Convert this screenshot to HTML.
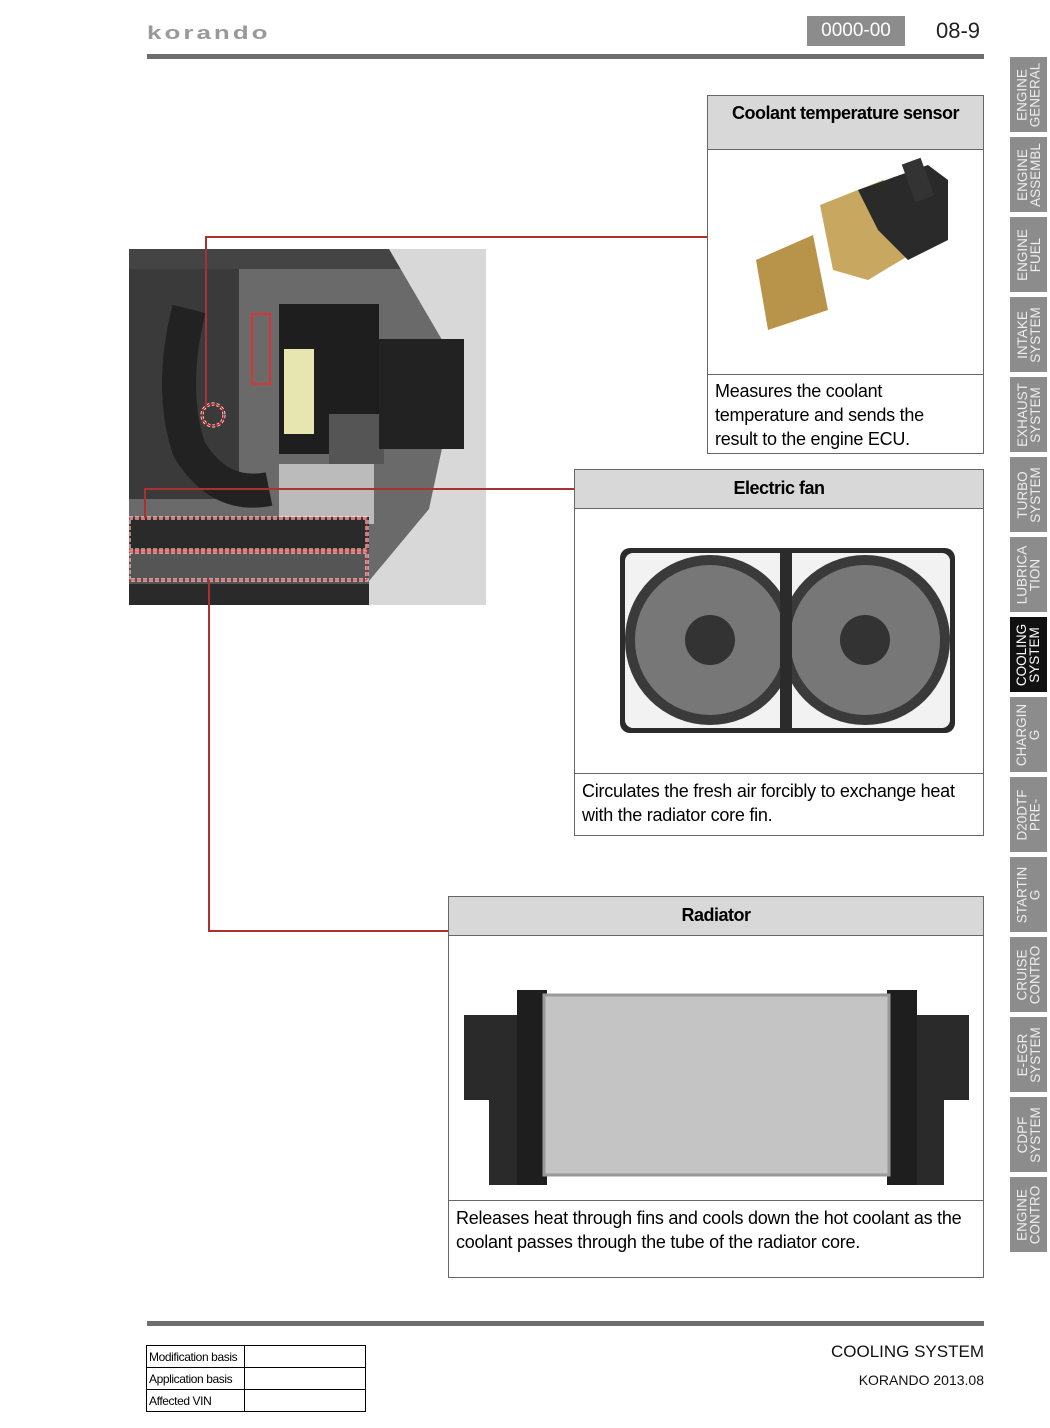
<!DOCTYPE html>
<html><head><meta charset="utf-8"><style>
body{margin:0;width:1050px;height:1428px;background:#fff;position:relative;font-family:"Liberation Sans",Arial,sans-serif;overflow:hidden}
.a{position:absolute}
.box{position:absolute;border:1px solid #666;background:#fff;box-sizing:border-box}
.hd{background:#d8d8d8;border-bottom:1px solid #666;font-weight:bold;text-align:center;font-size:18px;letter-spacing:-0.5px;box-sizing:border-box}
.tx{position:absolute;left:7px;font-size:18px;line-height:24px;letter-spacing:-0.25px;color:#000;white-space:nowrap}
.tab{position:absolute;left:1010px;width:37px;height:75px;background:#8c8c8c;color:#eee;font-size:13.5px;line-height:13px;display:flex;align-items:center;justify-content:center;text-align:center}
.tab span{transform:rotate(-90deg);white-space:nowrap;display:block}
.rl{position:absolute;background:#a83232}
td{white-space:nowrap;overflow:hidden}
</style></head><body>
<div class="a" style="left:147px;top:22px;font-size:26px;color:#999;letter-spacing:3px;font-weight:bold;transform:scaleY(0.7);transform-origin:top left">korando</div>
<div class="a" style="left:807px;top:16px;width:98px;height:30px;background:#8c8c8c;color:#fff;font-size:19px;text-align:center;line-height:30px">0000-00</div>
<div class="a" style="left:936px;top:18px;font-size:22px;color:#222">08-9</div>
<div class="a" style="left:147px;top:54px;width:837px;height:5px;background:#6e6e6e"></div>

<div class="tab" style="top:57px"><span>ENGINE<br>GENERAL</span></div>
<div class="tab" style="top:137px"><span>ENGINE<br>ASSEMBL</span></div>
<div class="tab" style="top:217px"><span>ENGINE<br>FUEL</span></div>
<div class="tab" style="top:297px"><span>INTAKE<br>SYSTEM</span></div>
<div class="tab" style="top:377px"><span>EXHAUST<br>SYSTEM</span></div>
<div class="tab" style="top:457px"><span>TURBO<br>SYSTEM</span></div>
<div class="tab" style="top:537px"><span>LUBRICA<br>TION</span></div>
<div class="tab" style="top:617px;background:#111;color:#fff"><span>COOLING<br>SYSTEM</span></div>
<div class="tab" style="top:697px"><span>CHARGIN<br>G</span></div>
<div class="tab" style="top:777px"><span>D20DTF<br>PRE-</span></div>
<div class="tab" style="top:857px"><span>STARTIN<br>G</span></div>
<div class="tab" style="top:937px"><span>CRUISE<br>CONTRO</span></div>
<div class="tab" style="top:1017px"><span>E-EGR<br>SYSTEM</span></div>
<div class="tab" style="top:1097px"><span>CDPF<br>SYSTEM</span></div>
<div class="tab" style="top:1177px"><span>ENGINE<br>CONTRO</span></div>

<svg class="a" style="left:129px;top:249px" width="357" height="356">
<rect width="357" height="356" fill="#6a6a6a"/>
<rect x="0" y="0" width="357" height="20" fill="#444"/>
<polygon points="260,0 357,0 357,356 220,356 300,260 330,120" fill="#d8d8d8"/>
<rect x="0" y="20" width="110" height="230" fill="#3a3a3a"/>
<path d="M60,60 Q40,140 60,200 Q90,250 140,240" stroke="#222" stroke-width="34" fill="none"/>
<rect x="150" y="55" width="100" height="150" fill="#1e1e1e"/>
<rect x="155" y="100" width="30" height="85" fill="#e8e6b0"/>
<rect x="200" y="165" width="55" height="50" fill="#555"/>
<rect x="250" y="90" width="85" height="110" fill="#222"/>
<rect x="150" y="215" width="95" height="60" fill="#bbb"/>
<rect x="123" y="65" width="18" height="70" fill="none" stroke="#d33" stroke-width="2"/>
<rect x="0" y="268" width="240" height="88" fill="#2a2a2a"/>
<rect x="0" y="300" width="240" height="35" fill="#555"/>
<circle cx="84" cy="166" r="11" fill="none" stroke="#fff" stroke-width="3" stroke-dasharray="3 2"/>
<circle cx="84" cy="166" r="11" fill="none" stroke="#b22" stroke-width="1.5"/>
<rect x="0" y="269" width="238" height="32" fill="none" stroke="#fff" stroke-width="3" stroke-dasharray="4 2"/>
<rect x="0" y="269" width="238" height="32" fill="none" stroke="#b22" stroke-width="1.2"/>
<rect x="0" y="303" width="238" height="28" fill="none" stroke="#fff" stroke-width="3" stroke-dasharray="4 2"/>
<rect x="0" y="303" width="238" height="28" fill="none" stroke="#b22" stroke-width="1.2"/>
</svg>

<div class="rl" style="left:205px;top:236px;width:502px;height:2px"></div>
<div class="rl" style="left:205px;top:236px;width:2px;height:170px"></div>
<div class="rl" style="left:144px;top:488px;width:430px;height:2px"></div>
<div class="rl" style="left:144px;top:488px;width:2px;height:30px"></div>
<div class="rl" style="left:208px;top:580px;width:2px;height:352px"></div>
<div class="rl" style="left:208px;top:930px;width:240px;height:2px"></div>

<div class="box" style="left:707px;top:95px;width:277px;height:359px">
<div class="hd" style="height:54px;padding-top:7px">Coolant temperature sensor</div>
<svg class="a" style="left:0;top:54px" width="275" height="225">
<polygon points="48,110 105,85 120,160 60,180" fill="#b8944a"/>
<polygon points="112,55 175,30 200,50 210,100 160,130 125,120" fill="#c8a860"/>
<polygon points="150,40 220,15 240,30 240,90 200,110 170,80" fill="#2a2a2a"/>
<rect x="200" y="10" width="20" height="40" fill="#333" transform="rotate(-20 210 30)"/>
</svg>
<div style="position:absolute;left:0;top:278px;width:275px;border-top:1px solid #666"></div>
<div class="tx" style="top:283px">Measures the coolant<br>temperature and sends the<br>result to the engine ECU.</div>
</div>

<div class="box" style="left:574px;top:469px;width:410px;height:367px">
<div class="hd" style="height:39px;padding-top:8px">Electric fan</div>
<svg class="a" style="left:0;top:38px" width="408" height="266">
<rect x="45" y="40" width="335" height="185" rx="10" fill="#2b2b2b"/>
<rect x="50" y="45" width="325" height="175" rx="8" fill="#f2f2f2"/>
<circle cx="135" cy="132" r="85" fill="#3a3a3a"/>
<circle cx="135" cy="132" r="75" fill="#777"/>
<circle cx="135" cy="132" r="25" fill="#333"/>
<circle cx="290" cy="132" r="85" fill="#3a3a3a"/>
<circle cx="290" cy="132" r="75" fill="#777"/>
<circle cx="290" cy="132" r="25" fill="#333"/>
<rect x="205" y="40" width="12" height="185" fill="#2b2b2b"/>
</svg>
<div style="position:absolute;left:0;top:303px;width:408px;border-top:1px solid #666"></div>
<div class="tx" style="top:309px">Circulates the fresh air forcibly to exchange heat<br>with the radiator core fin.</div>
</div>

<div class="box" style="left:448px;top:896px;width:536px;height:382px">
<div class="hd" style="height:39px;padding-top:8px">Radiator</div>
<svg class="a" style="left:0;top:38px" width="534" height="266">
<polygon points="15,80 70,80 70,250 40,250 40,165 15,165" fill="#2a2a2a"/>
<polygon points="465,80 520,80 520,165 495,165 495,250 465,250" fill="#2a2a2a"/>
<rect x="68" y="55" width="30" height="195" fill="#1e1e1e"/>
<rect x="438" y="55" width="30" height="195" fill="#1e1e1e"/>
<rect x="95" y="60" width="345" height="180" fill="#c4c4c4"/>
<rect x="95" y="60" width="345" height="180" fill="none" stroke="#999" stroke-width="3"/>
</svg>
<div style="position:absolute;left:0;top:303px;width:534px;border-top:1px solid #666"></div>
<div class="tx" style="top:309px">Releases heat through fins and cools down the hot coolant as the<br>coolant passes through the tube of the radiator core.</div>
</div>

<div class="a" style="left:147px;top:1321px;width:837px;height:5px;background:#6e6e6e"></div>
<table class="a" style="left:146px;top:1345px;border-collapse:collapse;font-size:12px;letter-spacing:-0.4px;table-layout:fixed;width:220px">
<tr><td style="border:1px solid #000;width:93px;height:21px;padding:0 2px">Modification basis</td><td style="border:1px solid #000"></td></tr>
<tr><td style="border:1px solid #000;height:21px;padding:0 2px">Application basis</td><td style="border:1px solid #000"></td></tr>
<tr><td style="border:1px solid #000;height:21px;padding:0 2px">Affected VIN</td><td style="border:1px solid #000"></td></tr>
</table>
<div class="a" style="right:66px;top:1342px;font-size:17px;color:#111">COOLING SYSTEM</div>
<div class="a" style="right:66px;top:1372px;font-size:14px;color:#111">KORANDO 2013.08</div>
</body></html>
